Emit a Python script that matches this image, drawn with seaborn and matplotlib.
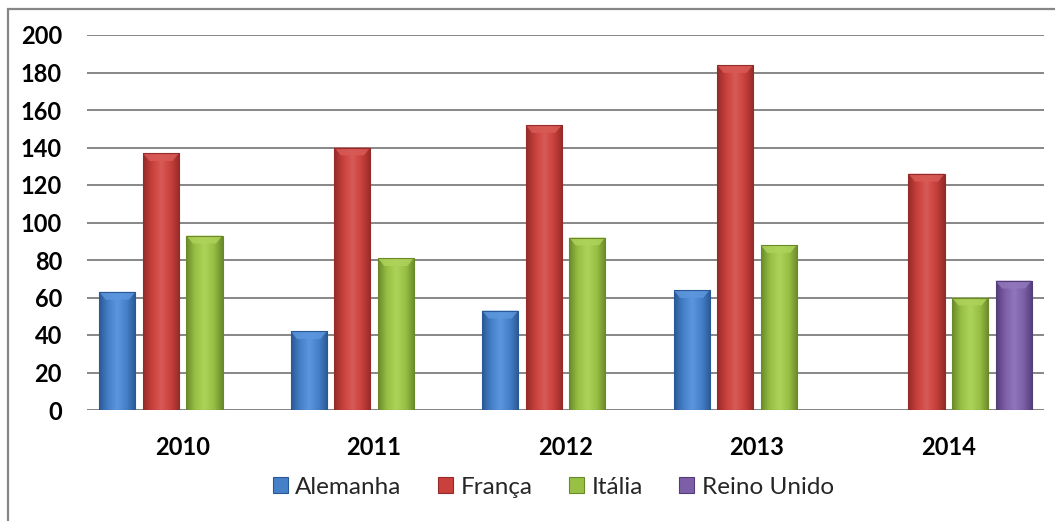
import numpy as np
import pandas as pd
import matplotlib
matplotlib.use("Agg")
import matplotlib.pyplot as plt
from matplotlib.colors import LinearSegmentedColormap
from matplotlib.patches import Rectangle, Polygon, Patch
import seaborn as sns

# ---- data ----
years = ["2010", "2011", "2012", "2013", "2014"]
series = ["Alemanha", "França", "Itália", "Reino Unido"]
alemanha = [63, 42, 53, 64, None]
franca = [137, 140, 152, 184, 126]
italia = [93, 81, 92, 88, 60]
reino_unido = [None, None, None, None, 69]
yticks = [0, 20, 40, 60, 80, 100, 120, 140, 160, 180, 200]

# ---- style ----
base_cols = ["#4580c8", "#c9403c", "#98c044", "#7d5fa8"]
edge_cols = ["#2a5896", "#942b28", "#6a8a2a", "#523d78"]
light_cols = ["#5c96dc", "#d85a56", "#aed25a", "#9076bb"]

rows = []
for name, vals in zip(series, [alemanha, franca, italia, reino_unido]):
    for y, v in zip(years, vals):
        if v is not None:
            rows.append({"Ano": y, "Pais": name, "Valor": v})
df = pd.DataFrame(rows)

sns.set_theme(style="white")
plt.rcParams["font.family"] = ["Lato", "DejaVu Sans"]

fig = plt.figure(figsize=(10.55, 5.21), dpi=100)
ax = fig.add_axes([87 / 1055, 1 - 410 / 521, (1044 - 87) / 1055, (410 - 35) / 521])

sns.barplot(data=df, x="Ano", y="Valor", hue="Pais", order=years,
            hue_order=series, palette=base_cols, width=0.91, gap=0.17,
            dodge=True, ax=ax, legend=False, saturation=1, errorbar=None,
            edgecolor="none", zorder=3)

ax.set_ylim(0, 200)
xl = ax.get_xlim()

# gradient shading on bars (Excel bevel look)
for i, container in enumerate(ax.containers):
    cmap = LinearSegmentedColormap.from_list(
        "g", [edge_cols[i], base_cols[i], light_cols[i], base_cols[i], edge_cols[i]])
    for bar in container:
        h = bar.get_height()
        if not np.isfinite(h) or h <= 0:
            continue
        x0, w = bar.get_x(), bar.get_width()
        grad = np.linspace(0, 1, 200)[None, :]
        im = ax.imshow(grad, extent=[x0, x0 + w, 0, h], aspect="auto",
                       cmap=cmap, zorder=3.1, interpolation="bicubic")
        im.set_clip_path(bar)
        hh = 4.2
        d = w * 0.18
        top = Polygon([[x0, h], [x0 + w, h], [x0 + w - d, h - hh], [x0 + d, h - hh]],
                      closed=True, facecolor=light_cols[i], edgecolor="none",
                      alpha=0.85, zorder=3.2)
        ax.add_patch(top)
        ax.add_patch(Rectangle((x0, 0), w, h, fill=False, edgecolor=edge_cols[i],
                               linewidth=0.8, zorder=3.3))

ax.set_xlim(xl)
ax.set_ylim(0, 200)
ax.set_yticks(yticks)
ax.set_yticklabels([str(t) for t in yticks], fontsize=17, fontweight="bold")
ax.set_xticks(range(len(years)))
ax.set_xticklabels(years, fontsize=17, fontweight="bold")
ax.tick_params(axis="y", length=0, pad=18, colors="black")
ax.tick_params(axis="x", length=0, pad=19, colors="black")
ax.set_xlabel("")
ax.set_ylabel("")
ax.grid(axis="y", color="#878787", linewidth=1.4, zorder=0)
ax.set_axisbelow(True)
for s in ax.spines.values():
    s.set_visible(False)
ax.axhline(0, color="#878787", linewidth=1.4, zorder=2)

handles = [Patch(facecolor=base_cols[i], edgecolor=edge_cols[i], linewidth=0.8)
           for i in range(len(series))]
fig.legend(handles, series, loc="center left", bbox_to_anchor=(273 / 1055, 1 - 487 / 521),
           ncol=4, frameon=False, fontsize=17.5, handlelength=0.62,
           handleheight=0.62, handletextpad=0.3, columnspacing=1.5,
           borderpad=0, borderaxespad=0)

# outer chart frame (cropped on right/bottom)
fig.patches.append(Rectangle((7.5 / 1055, -0.2), 1.5, 1 - 9 / 521 + 0.2,
                             transform=fig.transFigure, fill=False,
                             edgecolor="#868686", linewidth=1.6))

fig.savefig("out.png", dpi=100)
